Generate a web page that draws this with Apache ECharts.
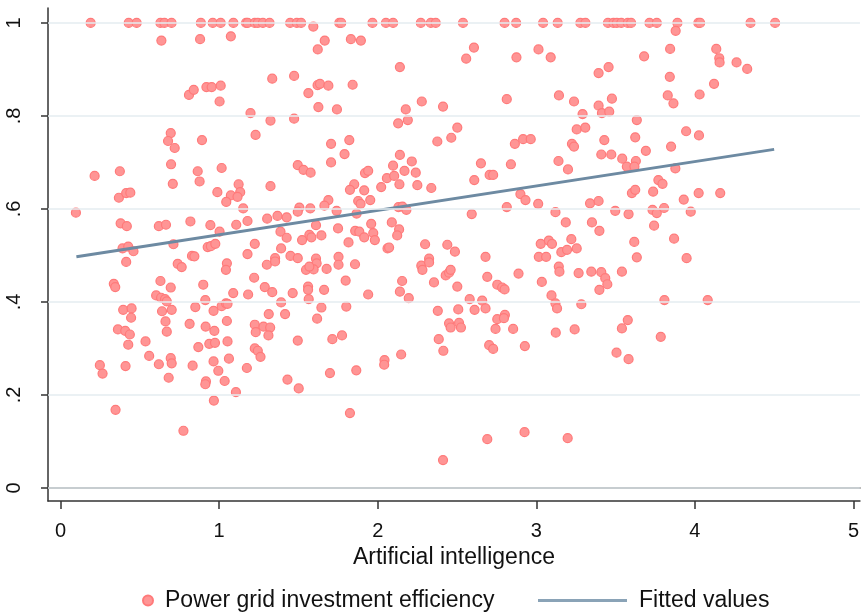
<!DOCTYPE html>
<html>
<head>
<meta charset="UTF-8">
<title>Power grid investment efficiency vs AI</title>
<script src="https://cdn.jsdelivr.net/npm/echarts@6/dist/echarts.min.js"></script>
<style>
  html, body { margin: 0; padding: 0; background: #fff; }
  #chart { width: 862px; height: 612px; }
</style>
</head>
<body>
<div id="chart"></div>
<script>
// points [artificial intelligence, power grid investment efficiency]
var topRow = [0.19, 0.43, 0.48, 0.63, 0.655, 0.70, 0.885, 0.96, 1.01, 1.09, 1.17, 1.18, 1.225,
  1.244, 1.276, 1.318, 1.448, 1.49, 1.517, 1.758, 1.77, 1.967, 2.052, 2.097, 2.272, 2.335, 2.366,
  2.538, 2.80, 2.873, 3.043, 3.135, 3.278, 3.31, 3.452, 3.487, 3.508, 3.536, 3.577, 3.598, 3.714,
  3.76, 3.89, 4.022, 4.033, 4.351, 4.506];

var pointsLeft = [
  [0.636,0.962],[0.88,0.965],[1.074,0.971],[0.81,0.845],[0.84,0.856],[0.92,0.862],[0.953,0.862],
  [1.01,0.865],[1.003,0.831],[1.198,0.806],[1.23,0.759],[0.695,0.763],[0.678,0.746],[0.72,0.731],
  [0.892,0.748],[0.215,0.671],[0.374,0.681],[0.697,0.696],[0.865,0.681],[1.016,0.688],[0.708,0.654],
  [0.877,0.659],[1.123,0.653],[0.368,0.624],[0.414,0.634],[0.44,0.635],[0.989,0.636],[1.074,0.629],
  [1.133,0.636],[1.116,0.626],[1.045,0.615],[1.152,0.601],[0.097,0.592],[0.379,0.569],[0.418,0.563],
  [0.62,0.563],[0.665,0.566],[0.819,0.573],[0.945,0.565],[1.003,0.551],[1.108,0.566],[1.179,0.574],
  [0.391,0.515],[0.427,0.519],[0.46,0.509],[0.712,0.524],[0.928,0.518],[0.948,0.52],[0.976,0.525],
  [1.225,0.525],[1.179,0.503],[0.829,0.499],[0.844,0.498],
  [0.414,0.486],[0.336,0.439],[0.345,0.432],[0.63,0.445],[0.695,0.431],[0.739,0.482],[0.764,0.475],
  [0.90,0.437],[1.049,0.483],[1.043,0.469],[1.221,0.452],[0.603,0.414],[0.634,0.409],[0.659,0.406],
  [0.67,0.401],[0.913,0.404],[1.089,0.419],[1.183,0.416],[0.395,0.383],[0.448,0.386],[0.445,0.366],
  [0.64,0.38],[0.701,0.383],[0.662,0.358],[0.67,0.336],[0.85,0.389],[0.965,0.381],[1.016,0.391],
  [1.043,0.397],[1.053,0.396],[1.049,0.359],[0.814,0.353],[0.915,0.347],[0.97,0.338],[1.225,0.351],
  [1.231,0.335],[0.362,0.341],[0.408,0.338],[0.437,0.33],[0.427,0.308],[0.536,0.315],[0.559,0.284],
  [0.62,0.266],[0.695,0.279],[0.701,0.268],[0.869,0.303],[0.938,0.31],[0.974,0.312],[1.053,0.315],
  [1.062,0.278],[0.965,0.272],[0.995,0.252],[0.833,0.263],[1.175,0.258],[1.225,0.30],[0.248,0.264],
  [0.265,0.246],[0.41,0.262],[0.682,0.237],[0.917,0.229],[0.913,0.223],[1.035,0.23],[1.106,0.206],
  [0.967,0.188],[0.347,0.168],[0.775,0.123]
];

var pointsMid = [
  [1.594,0.992],[1.666,0.962],[1.622,0.943],[1.831,0.965],[1.894,0.962],[2.14,0.905],[1.335,0.88],
  [1.473,0.886],[1.563,0.849],[1.621,0.866],[1.636,0.869],[1.689,0.865],[1.842,0.867],[1.626,0.819],
  [1.743,0.814],[2.278,0.831],[2.177,0.814],[2.412,0.82],[2.129,0.784],[2.19,0.791],[1.324,0.79],
  [1.473,0.794],[1.706,0.74],[1.821,0.748],[1.791,0.718],[1.706,0.70],[2.376,0.745],[2.464,0.753],
  [2.502,0.775],[1.496,0.694],[1.532,0.684],[1.577,0.678],[1.324,0.649],[2.14,0.716],[2.097,0.693],
  [2.215,0.702],[2.169,0.682],[2.24,0.678],[1.92,0.677],[1.94,0.682],[2.058,0.666],[2.104,0.671],
  [2.137,0.653],[2.25,0.651],[2.338,0.645],[2.022,0.647],[1.852,0.653],[1.825,0.641],[1.915,0.64],
  [1.689,0.619],[1.664,0.607],[1.877,0.617],[1.892,0.611],[1.953,0.619],[1.506,0.603],[1.496,0.594],
  [1.575,0.601],[1.741,0.596],[1.867,0.59],[2.131,0.604],[2.156,0.605],[2.181,0.598],[1.303,0.579],
  [1.368,0.585],[1.426,0.582],[1.387,0.551],[1.426,0.538],[1.611,0.565],[1.645,0.543],[1.569,0.544],
  [1.523,0.533],[1.582,0.539],[1.75,0.558],[1.858,0.553],[1.884,0.551],[1.915,0.539],[1.972,0.548],
  [1.982,0.533],[1.959,0.568],[1.816,0.528],[2.089,0.571],[2.135,0.556],[2.123,0.543],[2.062,0.515],
  [2.072,0.517],[1.391,0.515],[1.45,0.499],[1.496,0.494],[1.353,0.494],[1.753,0.497],[1.611,0.493],
  [2.324,0.493],[2.299,0.524],[2.439,0.523],[2.487,0.508],
  [1.301,0.48],[1.353,0.487],[1.288,0.432],[1.335,0.421],[1.391,0.399],[1.416,0.374],[1.313,0.374],
  [1.28,0.347],[1.322,0.345],[1.311,0.328],[1.244,0.295],[1.261,0.282],[1.464,0.419],[1.548,0.469],
  [1.586,0.475],[1.615,0.483],[1.678,0.471],[1.596,0.47],[1.569,0.476],[1.753,0.48],[1.857,0.481],
  [1.798,0.446],[1.561,0.433],[1.561,0.426],[1.565,0.406],[1.662,0.426],[1.645,0.388],[1.618,0.364],
  [1.802,0.39],[1.94,0.416],[1.496,0.317],[1.714,0.32],[1.775,0.328],[1.431,0.233],[1.502,0.214],
  [1.699,0.247],[1.865,0.253],[1.825,0.161],[2.043,0.275],[2.041,0.265],[2.148,0.287],[2.14,0.422],
  [2.196,0.408],[2.154,0.445],[2.275,0.478],[2.282,0.469],[2.324,0.485],[2.355,0.442],[2.429,0.457],
  [2.45,0.463],[2.46,0.469],[2.502,0.433],[2.379,0.381],[2.45,0.354],[2.46,0.345],[2.385,0.32],
  [2.414,0.295],[2.412,0.06]
];

var pointsRight = [
  [2.607,0.947],[2.558,0.923],[2.875,0.926],[3.014,0.943],[3.091,0.926],[3.393,0.892],[3.456,0.905],
  [3.68,0.928],[2.814,0.836],[3.143,0.844],[3.238,0.831],[3.292,0.804],[3.393,0.822],[3.414,0.806],
  [3.46,0.809],[3.477,0.837],[3.255,0.771],[3.309,0.775],[3.634,0.791],[3.624,0.754],[2.865,0.74],
  [2.917,0.75],[2.965,0.75],[3.225,0.74],[3.238,0.734],[3.429,0.748],[3.41,0.717],[3.473,0.717],
  [3.542,0.708],[3.571,0.691],[3.628,0.703],[3.619,0.691],[3.691,0.725],[2.651,0.698],[2.84,0.696],
  [3.14,0.703],[3.2,0.685],[2.609,0.662],[2.706,0.673],[2.728,0.673],[3.77,0.662],[2.9,0.632],
  [2.932,0.619],[3.012,0.611],[3.603,0.634],[3.624,0.641],[3.737,0.637],[3.339,0.612],[3.393,0.617],
  [2.593,0.589],[2.814,0.604],[3.121,0.593],[3.498,0.596],[3.582,0.589],[3.733,0.598],[3.76,0.591],
  [3.186,0.571],[3.351,0.571],[3.398,0.553],[3.743,0.564],[3.028,0.525],[3.079,0.532],[3.099,0.525],
  [3.221,0.535],[3.255,0.515],[3.158,0.507],[3.194,0.512],[3.618,0.529],[2.68,0.497],[3.016,0.497],
  [3.062,0.497],[3.634,0.496],
  [2.691,0.454],[2.888,0.461],[2.754,0.437],[2.785,0.431],[2.8,0.427],[3.035,0.443],[3.142,0.476],
  [3.146,0.465],[3.267,0.462],[3.347,0.465],[3.41,0.464],[3.435,0.451],[3.448,0.438],[3.398,0.426],
  [3.54,0.465],[2.58,0.406],[2.659,0.403],[2.68,0.386],[2.611,0.383],[2.508,0.384],[2.513,0.355],
  [2.525,0.345],[2.754,0.363],[2.802,0.372],[2.796,0.365],[2.743,0.342],[2.854,0.342],[2.703,0.307],
  [2.728,0.299],[2.928,0.305],[3.096,0.414],[3.121,0.397],[3.131,0.386],[3.284,0.395],[3.123,0.334],
  [3.242,0.341],[3.577,0.361],[3.54,0.343],[3.506,0.291],[3.582,0.277],[2.691,0.105],[2.926,0.12],
  [3.198,0.107],
  [3.879,0.983],[3.844,0.944],[4.135,0.944],[4.154,0.924],[4.156,0.915],[4.263,0.915],[4.33,0.901],
  [3.842,0.884],[4.121,0.869],[3.829,0.844],[3.865,0.827],[4.03,0.846],[3.945,0.767],[4.026,0.758],
  [3.85,0.734],[3.877,0.687],[3.796,0.654],[3.93,0.62],[4.024,0.634],[4.16,0.634],[3.806,0.602],
  [3.974,0.594],[3.869,0.536],[3.948,0.494],[3.808,0.404],[4.081,0.404],[3.785,0.325]
];

// fitted line end points
var fitX = [0.1, 4.5];
var fitY = [0.497, 0.728];

var xTicks = [0, 1, 2, 3, 4, 5];
var yTicks = [0, 0.2, 0.4, 0.6, 0.8, 1];
var yTickLabels = ['0', '.2', '.4', '.6', '.8', '1'];

var scatterData = topRow.map(function (x) { return [x, 1]; })
  .concat(pointsLeft, pointsMid, pointsRight);
var fitData = fitX.map(function (x, i) { return [x, fitY[i]]; });

var FONT = 'Liberation Sans, Arial, sans-serif';
var myChart = echarts.init(document.getElementById('chart'));

var option = {
  backgroundColor: '#fff',
  animation: false,
  textStyle: { fontFamily: FONT, color: '#111' },
  grid: { left: 48, top: 8, right: 0, bottom: 111 },
  legend: [
    {
      data: [{ name: 'Power grid investment efficiency', icon: 'circle' }],
      left: 137, top: 584,
      itemWidth: 10, itemHeight: 10,
      textStyle: { fontFamily: FONT, fontSize: 23, color: '#111', padding: [0, 0, 0, 7] }
    },
    {
      data: [{ name: 'Fitted values', icon: 'rect' }],
      left: 533, top: 584,
      itemWidth: 89, itemHeight: 3,
      textStyle: { fontFamily: FONT, fontSize: 23, color: '#111', padding: [0, 0, 0, 7] }
    }
  ],
  xAxis: [
    {
      type: 'value',
      min: -0.079, max: 5.041,
      name: 'Artificial intelligence',
      nameLocation: 'middle',
      nameGap: 40,
      nameTextStyle: { fontFamily: FONT, fontSize: 23, color: '#111' },
      axisLine: { show: true, onZero: false, lineStyle: { color: '#333', width: 1.5 } },
      axisTick: { show: true, length: 8, customValues: xTicks, lineStyle: { color: '#333', width: 1.5 } },
      axisLabel: { customValues: xTicks, margin: 20, fontSize: 20, color: '#111', fontFamily: FONT },
      splitLine: { show: false }
    },
    {
      type: 'value', position: 'top',
      min: -0.079, max: 5.041,
      axisLine: { show: true, lineStyle: { color: '#444', width: 1.5 } },
      axisTick: { show: false }, axisLabel: { show: false }, splitLine: { show: false }
    }
  ],
  yAxis: {
    type: 'value',
    min: -0.028, max: 1.032,
    axisLine: { show: true, onZero: false, lineStyle: { color: '#333', width: 1.5 } },
    axisTick: { show: true, length: 7, customValues: yTicks, lineStyle: { color: '#333', width: 1.5 } },
    axisLabel: {
      customValues: yTicks, rotate: 90, margin: 24, fontSize: 20, color: '#111', fontFamily: FONT,
      formatter: function (v) {
        var i = yTicks.indexOf(Math.round(v * 10) / 10);
        return i >= 0 ? yTickLabels[i] : '';
      }
    },
    splitLine: { show: false }
  },
  series: [
    {
      // horizontal grid lines
      name: 'grid', type: 'line', data: [], z: 1, silent: true,
      markLine: {
        silent: true, symbol: 'none', animation: false,
        label: { show: false },
        lineStyle: { color: '#e4ecf1', width: 1.5, type: 'solid' },
        data: yTicks.map(function (v) { return { yAxis: v }; })
      }
    },
    {
      name: 'Power grid investment efficiency',
      type: 'scatter',
      data: scatterData,
      symbolSize: 9,
      z: 3,
      itemStyle: { color: '#ff9595', borderColor: '#ff7a7a', borderWidth: 1.2, opacity: 1 }
    },
    {
      name: 'Fitted values',
      type: 'line',
      data: fitData,
      showSymbol: false,
      z: 4,
      lineStyle: { color: '#6d8aa2', width: 3 },
      itemStyle: { color: '#8aa3b7' }
    }
  ]
};

myChart.setOption(option);
</script>
</body>
</html>
